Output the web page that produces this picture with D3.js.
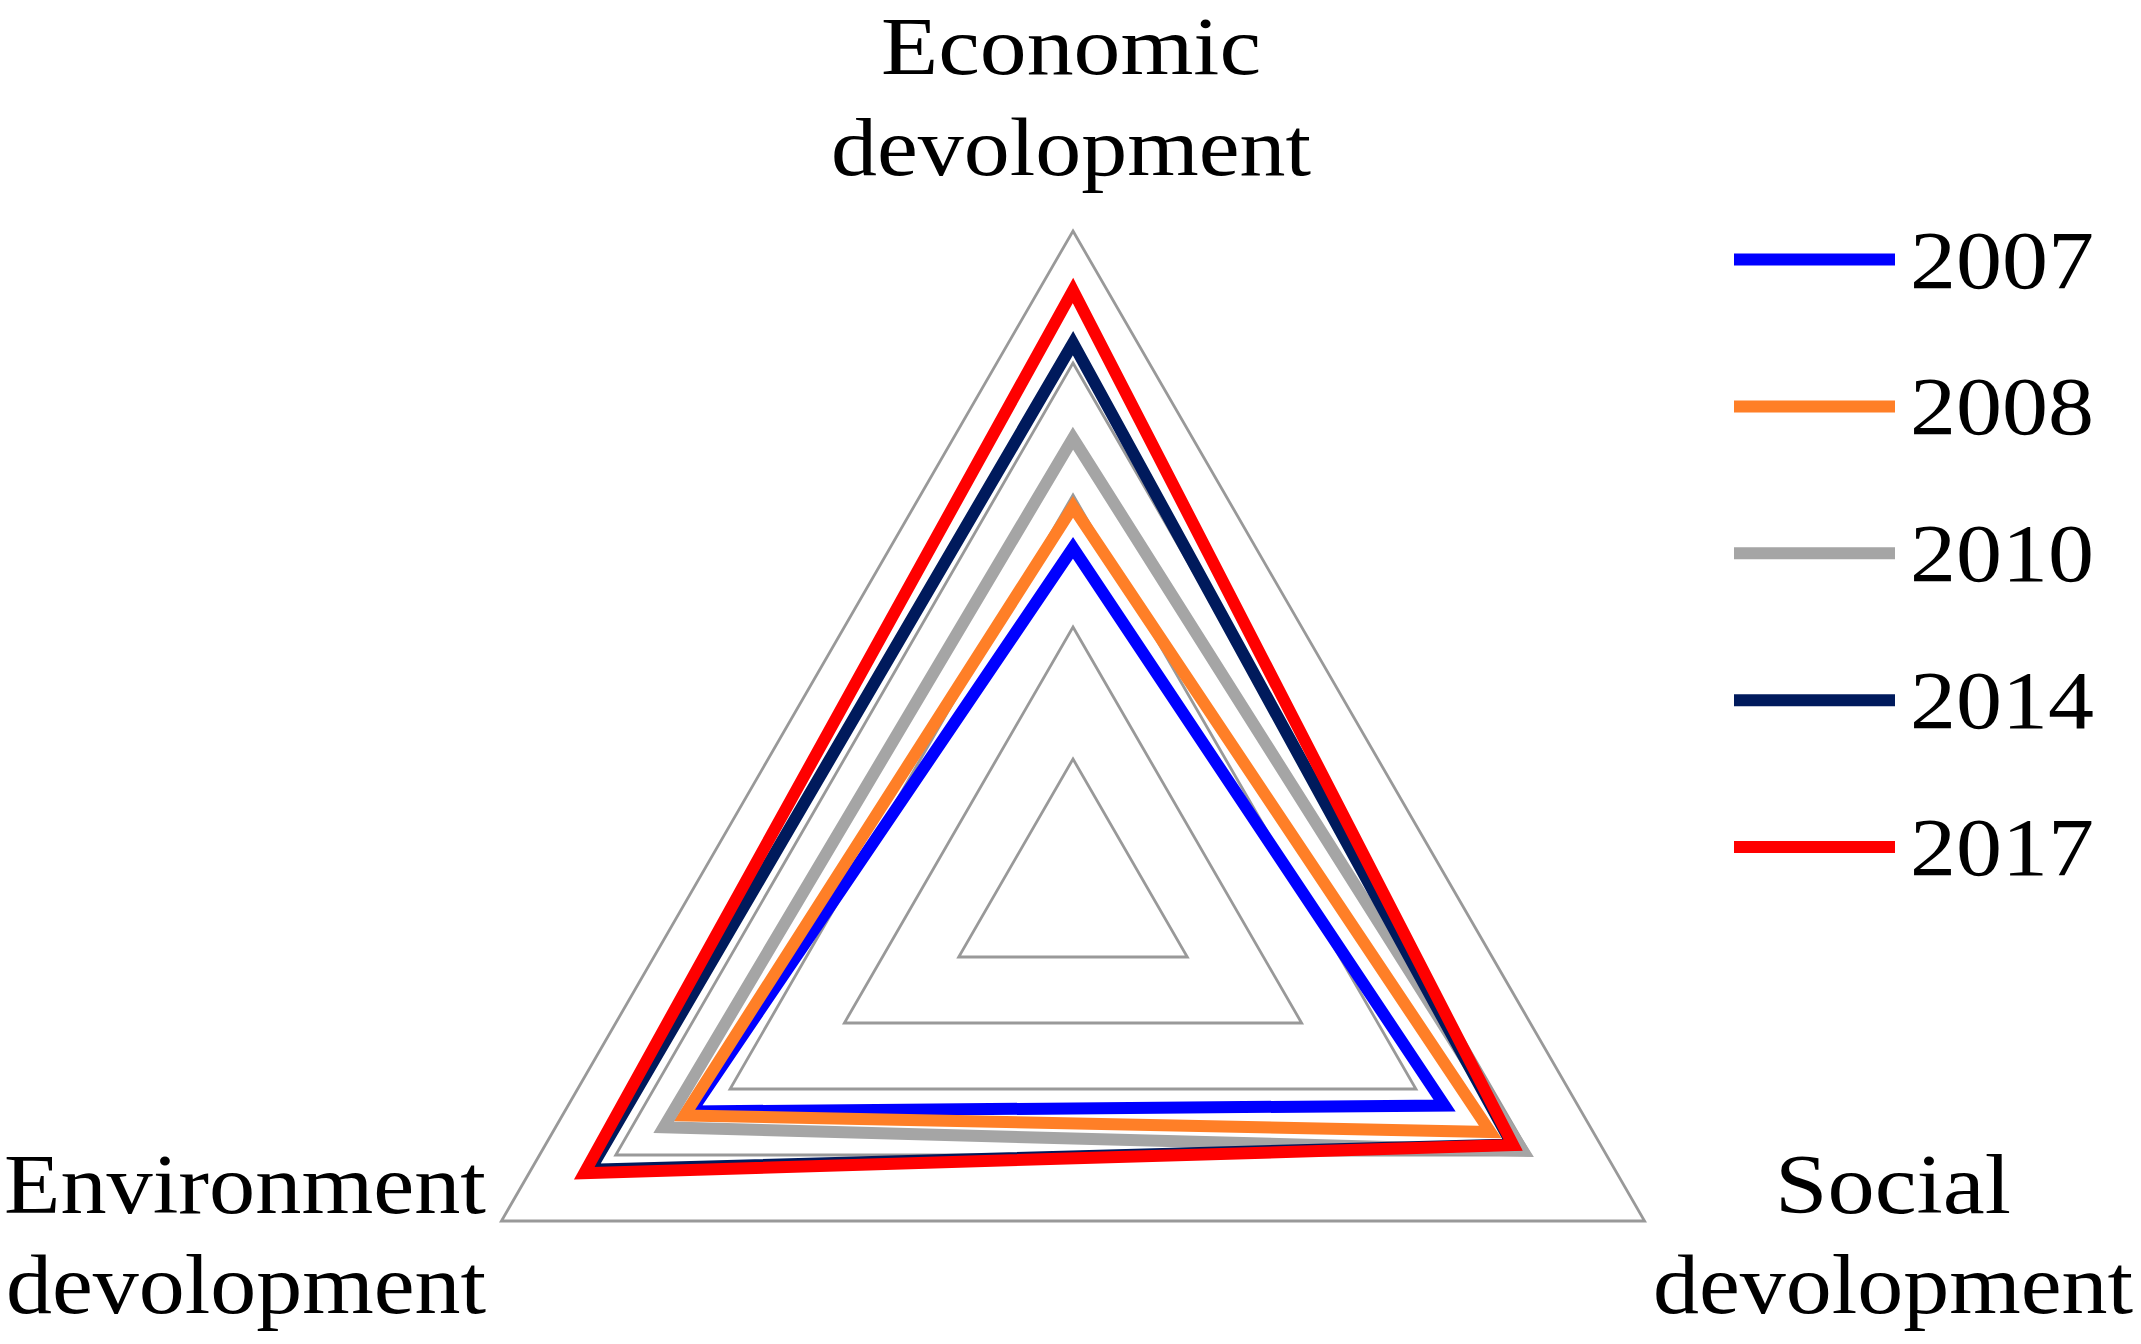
<!DOCTYPE html>
<html>
<head>
<meta charset="utf-8">
<script src="https://cdn.jsdelivr.net/npm/d3@7"></script>
<style>
html,body{margin:0;padding:0;background:#fff;}
svg{display:block;}
text{font-family:"Liberation Serif","Times New Roman",serif;fill:#000;}
</style>
</head>
<body>
<script>
// ---- data ----
const axes = ["Economic devolopment", "Social devolopment", "Environment devolopment"];
const years = ["2007", "2008", "2010", "2014", "2017"];
const colors = ["#0000FF", "#FF7F27", "#A5A5A5", "#001A5C", "#FF0000"];
const v2007 = [0.52, 0.65, 0.668];
const v2008 = [0.582, 0.73, 0.68];
const v2010 = [0.686, 0.787, 0.716];
const v2014 = [0.83, 0.768, 0.845];
const v2017 = [0.91, 0.77, 0.855];
const seriesValues = [v2007, v2008, v2010, v2014, v2017];
const gridLevels = [0.2, 0.4, 0.6, 0.8, 1.0];

// ---- layout ----
const W = 2141, H = 1344;
const cx = 1073, cy = 891, R = 660;

const svg = d3.select("body").append("svg").attr("width", W).attr("height", H);
const g = svg.append("g").attr("transform", `translate(${cx},${cy})`);

const r = d3.scaleLinear().domain([0, 1]).range([0, R]);
const ang = d3.scalePoint().domain(d3.range(axes.length + 1)).range([0, 2 * Math.PI]);

const radial = d3.lineRadial()
  .angle((d, i) => ang(i))
  .radius(d => r(d))
  .curve(d3.curveLinearClosed);

// grid
g.selectAll("path.grid").data(gridLevels).join("path")
  .attr("class", "grid")
  .attr("d", lv => radial(axes.map(() => lv)))
  .attr("fill", "none")
  .attr("stroke", "#999999")
  .attr("stroke-width", 2.8);

// series
g.selectAll("path.series").data(seriesValues).join("path")
  .attr("class", "series")
  .attr("d", d => radial(d))
  .attr("fill", "none")
  .attr("stroke", (d, i) => colors[i])
  .attr("stroke-width", 12)
  .attr("stroke-linejoin", "miter");

// axis labels
const labelSpec = [
  {lines: ["Economic", "devolopment"], x: 1071, y: [74, 175], anchor: "middle", len: [380, 480], fs: 82},
  {lines: ["Social", "devolopment"], x: 1893, y: [1213, 1313], anchor: "middle", len: [236, 480], fs: 84},
  {lines: ["Environment", "devolopment"], x: 486, y: [1213, 1313], anchor: "end", len: [482, 480], fs: 84}
];
labelSpec.forEach(s => {
  s.lines.forEach((t, k) => {
    svg.append("text")
      .attr("x", s.x).attr("y", s.y[k])
      .attr("text-anchor", s.anchor)
      .attr("font-size", s.fs)
      .attr("textLength", s.len[k])
      .attr("lengthAdjust", "spacingAndGlyphs")
      .text(t);
  });
});

// legend
const lg = svg.append("g");
const legY = d3.scaleLinear().domain([0, years.length - 1]).range([259.5, 847]);
years.forEach((y, i) => {
  lg.append("line")
    .attr("x1", 1734).attr("x2", 1895)
    .attr("y1", legY(i)).attr("y2", legY(i))
    .attr("stroke", colors[i]).attr("stroke-width", 12);
  lg.append("text")
    .attr("x", 1910).attr("y", legY(i) + 28)
    .attr("font-size", 83)
    .attr("textLength", 184)
    .attr("lengthAdjust", "spacingAndGlyphs")
    .text(y);
});
</script>
</body>
</html>
